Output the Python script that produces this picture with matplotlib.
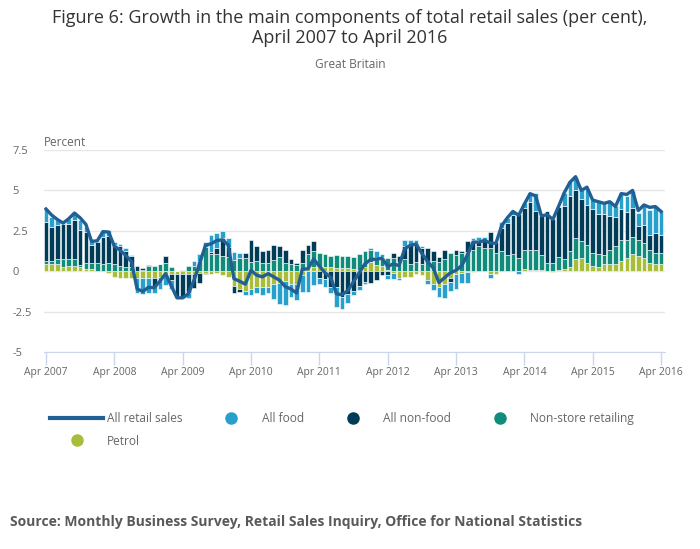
import numpy as np
import matplotlib.pyplot as plt
from matplotlib.lines import Line2D

plt.rcParams['font.family'] = ['Open Sans', 'DejaVu Sans']

# monthly contributions, Apr 2007 .. Apr 2016 (percentage points)
food = [0.78, 0.62, 0.27, 0.10, 0.30, 0.40, 0.62, 0.31, 0.25, 0.10,
        0.40, 0.35, 0.20, 0.10, 0.20, 0.05, -0.87, -0.95, -0.95, -0.45,
        -0.75, -0.60, -0.55, 0.00, 0.00, -0.30, 0.30, 0.40, 0.30, 1.08,
        0.92, 0.38, 0.56, 0.48, 0.35, -0.25, -0.35, -0.35, -0.50, -0.38,
        -0.94, -1.30, -1.50, -0.85, -1.00, -1.04, -1.29, -0.83, -0.40, -0.52,
        -0.38, -1.25, -0.73, -0.58, -0.25, -0.25, -0.15, 0.15, 0.40, 0.20,
        -0.25, -0.40, -0.10, 0.38, 0.30, 0.20, 0.15, -0.25, -0.38, -0.60,
        -0.85, -0.58, -0.90, -0.66, -0.66, 0.15, 0.20, 0.25, -0.20, 0.00,
        0.38, 0.30, 0.30, -0.15, 0.30, 0.45, 1.08, 0.00, 0.00, 0.00,
        0.00, 0.83, 0.90, 0.77, 0.56, 1.10, 0.56, 0.77, 0.70, 0.90,
        0.66, 0.92, 1.00, 1.08, 0.83, 1.25, 1.56, 1.67, 1.52]
non_food = [2.44, 2.14, 2.14, 2.15, 2.15, 2.41, 2.13, 1.94, 1.10, 1.26,
            1.67, 1.67, 1.15, 1.24, 0.99, 0.70, 0.27, 0.12, 0.05, -0.45,
            0.00, 0.48, -0.35, -1.40, -1.45, -1.20, -0.90, -0.65, -0.10, 0.08,
            0.38, 1.12, 0.62, -0.44, -0.17, 0.31, 1.30, 0.94, 0.73, 0.79,
            0.90, 0.70, 0.80, 0.30, 0.10, 0.83, 0.58, 0.62, -0.40, -0.46,
            -0.98, -0.98, -1.60, -1.40, -1.25, -0.90, -0.66, -0.70, -0.56, -0.25,
            -0.25, 0.30, 0.35, 0.80, 1.17, 1.20, 0.96, 0.80, 0.62, 0.30,
            0.55, -0.20, 0.30, 0.15, 0.70, 0.62, 0.35, 0.40, 1.00, 0.70,
            1.40, 2.00, 2.40, 2.70, 2.60, 3.00, 2.45, 2.40, 3.20, 2.77,
            3.15, 3.30, 3.40, 2.96, 2.60, 2.45, 2.70, 2.46, 2.56, 2.10,
            1.80, 1.94, 1.73, 1.77, 0.83, 1.10, 0.94, 1.25, 1.10]
non_store = [0.17, 0.17, 0.29, 0.50, 0.44, 0.44, 0.16, 0.38, 0.38, 0.50,
             0.46, 0.50, 0.46, 0.33, 0.25, 0.27, 0.04, 0.10, 0.31, 0.31,
             0.45, 0.48, 0.23, 0.02, 0.05, 0.31, 0.31, 0.65, 1.50, 1.08,
             1.08, 0.96, 0.90, 0.69, 0.79, 0.79, 0.60, 0.62, 0.52, 0.52,
             0.70, 0.85, 0.50, 0.45, 0.40, 0.48, 0.77, 0.98, 0.83, 0.80,
             0.73, 0.83, 0.77, 0.77, 0.77, 0.95, 1.00, 0.77, 0.50, 0.58,
             0.75, 0.80, 0.58, 0.75, 0.46, 0.54, 0.46, 0.62, 0.62, 0.55,
             0.75, 1.10, 1.00, 1.10, 1.17, 1.30, 1.58, 1.45, 1.45, 1.10,
             1.25, 1.00, 1.05, 0.83, 1.20, 1.20, 1.25, 0.96, 0.50, 0.48,
             0.75, 0.62, 1.00, 1.33, 1.04, 1.10, 0.83, 0.81, 0.58, 0.90,
             1.15, 1.30, 1.15, 1.08, 0.98, 0.94, 0.79, 0.69, 0.69]
petrol = [0.45, 0.45, 0.45, 0.25, 0.31, 0.31, 0.25, 0.12, 0.12, 0.02,
          0.00, -0.10, -0.35, -0.45, -0.45, -0.45, -0.45, -0.45, -0.40, -0.45,
          -0.35, -0.25, -0.20, -0.20, -0.20, -0.15, -0.15, -0.10, -0.10, -0.15,
          -0.10, -0.25, -0.35, -0.92, -1.10, -1.20, -1.10, -1.00, -0.98, -0.95,
          -0.80, -0.70, -0.60, -0.77, -0.80, -0.25, 0.27, 0.27, 0.27, 0.25,
          0.23, 0.17, 0.17, 0.17, 0.12, 0.10, 0.27, 0.54, 0.38, 0.31,
          0.05, -0.10, -0.45, -0.35, -0.35, -0.15, -0.25, -0.56, -0.80, -1.00,
          -0.80, -0.45, -0.20, -0.10, -0.05, -0.05, 0.00, 0.00, -0.20, -0.20,
          0.00, 0.00, 0.00, 0.00, 0.12, 0.10, 0.05, 0.05, 0.00, -0.05,
          0.10, 0.12, 0.27, 0.75, 0.83, 0.52, 0.31, 0.27, 0.42, 0.42,
          0.42, 0.62, 0.79, 1.06, 0.96, 0.83, 0.52, 0.42, 0.42]
all_retail = [3.85, 3.47, 3.20, 2.98, 3.25, 3.60, 3.30, 2.90, 1.85, 1.88,
              2.45, 2.42, 1.55, 1.30, 0.98, 0.60, -1.10, -1.25, -1.00, -1.02,
              -0.62, -0.15, -0.90, -1.65, -1.65, -1.40, -0.55, 0.50, 1.60, 1.70,
              1.90, 1.94, 1.62, -0.46, -0.62, -0.80, 0.05, -0.25, -0.35, -0.15,
              -0.35, -0.56, -0.95, -1.10, -1.35, 0.12, 0.15, 0.75, 0.32, -0.10,
              -0.38, -1.40, -1.45, -1.20, -0.65, -0.10, 0.45, 0.72, 0.75, 0.80,
              0.30, 0.45, 0.35, 1.40, 1.60, 1.68, 1.10, 0.60, 0.20, -0.70,
              -0.40, -0.10, 0.05, 0.35, 1.00, 1.80, 1.80, 1.90, 1.75, 1.72,
              2.80, 3.30, 3.70, 3.46, 4.15, 4.80, 4.65, 3.42, 3.50, 3.20,
              4.00, 4.85, 5.50, 5.85, 5.00, 5.20, 4.40, 4.30, 4.20, 4.30,
              4.00, 4.80, 4.75, 5.00, 3.75, 4.10, 3.95, 4.00, 3.70]

tick_labels = ['Apr 2007', 'Apr 2008', 'Apr 2009', 'Apr 2010', 'Apr 2011',
               'Apr 2012', 'Apr 2013', 'Apr 2014', 'Apr 2015', 'Apr 2016']

c_line = '#206095'
c_food = '#27a0cc'
c_nonfood = '#003c57'
c_nonstore = '#118c7b'
c_petrol = '#a8bd3a'
grey = '#666666'

x = np.arange(len(all_retail))

fig = plt.figure(figsize=(7, 5.49), dpi=100)
ax = fig.add_axes([44 / 700, 1 - 352 / 549, 621 / 700, 202 / 549])

# stack from zero outwards: petrol, non-store, non-food, food
pos = np.zeros(len(x))
neg = np.zeros(len(x))
for vals, col in [(petrol, c_petrol), (non_store, c_nonstore),
                  (non_food, c_nonfood), (food, c_food)]:
    v = np.array(vals)
    base = np.where(v >= 0, pos, neg)
    ax.bar(x, v, bottom=base, width=0.82, color=col,
           edgecolor='white', linewidth=0.4, zorder=2)
    pos += np.clip(v, 0, None)
    neg += np.clip(v, None, 0)

ax.plot(x, all_retail, color=c_line, lw=2.4, zorder=3,
        solid_joinstyle='round')

ax.set_xlim(-0.35, 108.7)
ax.set_ylim(-5, 7.5)
ax.set_yticks([-5, -2.5, 0, 2.5, 5, 7.5])
ax.set_yticklabels(['-5', '-2.5', '0', '2.5', '5', '7.5'])
ax.set_xticks(np.arange(0, 109, 12))
ax.set_xticklabels(tick_labels)
ax.grid(axis='y', color='#e6e6e6', lw=1, zorder=0)
ax.set_axisbelow(True)
for s in ['top', 'right', 'left']:
    ax.spines[s].set_visible(False)
ax.spines['bottom'].set_color('#ccd6eb')
ax.tick_params(axis='x', colors='#ccd6eb', length=9, width=1,
               labelcolor=grey, labelsize=7.5, pad=2)
ax.tick_params(axis='y', length=0, pad=23, labelcolor=grey, labelsize=8)
for lab in ax.get_yticklabels():
    lab.set_horizontalalignment('left')

fig.text(44 / 700, 1 - 143 / 549, 'Percent', color=grey, fontsize=8.5,
         va='center', ha='left')

fig.text(0.5, 1 - 28 / 549,
         'Figure 6: Growth in the main components of total retail sales (per cent),\nApril 2007 to April 2016',
         ha='center', va='center', fontsize=13, color='#333333', linespacing=1.15)
fig.text(0.5, 1 - 64 / 549, 'Great Britain', ha='center', va='center',
         fontsize=8.6, color=grey)

handles = [Line2D([], [], color=c_line, lw=3),
           Line2D([], [], ls='none', marker='o', ms=8, color=c_petrol),
           Line2D([], [], ls='none', marker='o', ms=8, color=c_food),
           Line2D([], [], ls='none', marker='o', ms=8, color=c_nonfood),
           Line2D([], [], ls='none', marker='o', ms=8, color=c_nonstore)]
labels = ['All retail sales', 'Petrol', 'All food', 'All non-food',
          'Non-store retailing']
leg = fig.legend(handles, labels, loc='upper left', ncol=4, frameon=False,
                 bbox_to_anchor=(44 / 700, 1 - 406 / 549), borderpad=0,
                 handlelength=4.45, handletextpad=0.3, columnspacing=1.9,
                 labelspacing=0.8, fontsize=8.6)
for t in leg.get_texts():
    t.set_color(grey)

fig.text(10 / 700, 1 - 522 / 549,
         'Source: Monthly Business Survey, Retail Sales Inquiry, Office for National Statistics',
         fontsize=10, fontweight='bold', color='#595959', va='center', ha='left')

fig.savefig('out.png', dpi=100)
